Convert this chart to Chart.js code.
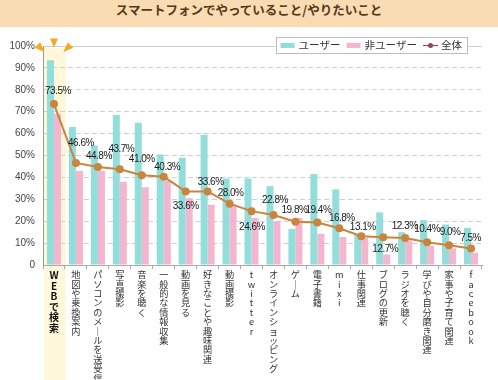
<!DOCTYPE html>
<html lang="ja">
<head>
<meta charset="utf-8">
<title>スマートフォンでやっていること/やりたいこと</title>
<script src="https://cdn.jsdelivr.net/npm/chart.js@4.4.1/dist/chart.umd.min.js"></script>
<style>
  html, body { margin: 0; padding: 0; background: #fff; }
  #wrap { position: relative; width: 498px; height: 380px; overflow: hidden; }
  #title {
    position: absolute; left: 0; top: 0; width: 498px; height: 27px; line-height: 27px;
    background: #fadcb2; color: #56381a; text-align: center; z-index: 2;
    font: bold 12.5px "Noto Sans CJK JP", sans-serif;
  }
  #chart { position: absolute; left: 0; top: 0; }
</style>
</head>
<body>
<div id="wrap">
  <div id="title">スマートフォンでやっていること/やりたいこと</div>
  <canvas id="chart" width="498" height="380"></canvas>
</div>
<script>
// --- data ---
const categories = [
  'WEBで検索', '地図や乗換案内', 'パソコンのメールを送受信', '写真撮影', '音楽を聴く',
  '一般的な情報収集', '動画を見る', '好きなことや趣味関連', '動画撮影', 'twitter',
  'オンラインショッピング', 'ゲーム', '電子書籍', 'mixi', '仕事関連',
  'ブログの更新', 'ラジオを聴く', '学びや自分磨き関連', '家事や子育て関連', 'facebook'
];
const seriesNames = ['ユーザー', '非ユーザー', '全体'];
const userValues = [93.5, 63, 54.5, 68.5, 65, 50.5, 49, 59.5, 39.5, 39.5, 36, 16.5, 41.5, 34.5, 13.7, 24, 15, 20.5, 18.5, 17];
const nonUserValues = [69, 43, 43, 38, 35.5, 38.5, 30.5, 27.5, 27.5, 21.5, 20, 21.5, 14.2, 12.8, 12.3, 4.8, 11.2, 8.7, 7.6, 5.6];
const totalValues = [73.5, 46.6, 44.8, 43.7, 41.0, 40.3, 33.6, 33.6, 28.0, 24.6, 22.8, 19.8, 19.4, 16.8, 13.1, 12.7, 12.3, 10.4, 9.0, 7.5];
const yTickValues = [0, 10, 20, 30, 40, 50, 60, 70, 80, 90, 100];

// --- styles ---
const userColor = '#93dedb';
const nonUserColor = '#f4b6cf';
const totalColor = '#c9843e';
const legendLineColor = '#8b4a58';
// where each value label sits relative to its point [dx, dy]
const labelOffsets = [
  [4, -12.7], [5, -19.2], [1, -11.1], [1.5, -20.5], [0, -16.4], [3.5, -9.9], [0, 14.4], [3, -9.6],
  [1, -10.1], [0.5, 15.8], [1.5, -15.2], [-1, -11.7], [1, -12.6], [2.5, -10], [1.5, -9.4], [2, 12],
  [-0.5, -12.1], [0, -12.6], [1, -12.6], [-0.5, -10.3]
];

// vertical labels: one character per line, long vowel mark turned upright
const verticalLabels = categories.map(s => [...s].map(c => c === 'ー' ? '｜' : c));

// --- plugins ---
function drawTriangle(ctx, x, y, angle, len, base) {
    const cos = Math.cos(angle), sin = Math.sin(angle);
    const tx = x + cos * len / 2, ty = y + sin * len / 2;
    const bx = x - cos * len / 2, by = y - sin * len / 2;
    ctx.beginPath();
    ctx.moveTo(tx, ty);
    ctx.lineTo(bx - sin * base / 2, by + cos * base / 2);
    ctx.lineTo(bx + sin * base / 2, by - cos * base / 2);
    ctx.closePath();
    ctx.fill();
}

const highlightColumn = {
    id: 'highlightColumn',
    beforeDraw(chart) {
        const x = chart.scales.x;
        const top = chart.chartArea.top;
        const half = x.width / categories.length / 2;
        const cx = x.getPixelForValue(0);
        const ctx = chart.ctx;
        ctx.save();
        ctx.fillStyle = '#fff8da';
        ctx.fillRect(cx - half + 1, top + 2, half * 2, chart.height - top);
        ctx.restore();
    },
    afterDraw(chart) {
        const x = chart.scales.x;
        const top = chart.chartArea.top;
        const cx = x.getPixelForValue(0);
        const ctx = chart.ctx;
        ctx.save();
        ctx.fillStyle = '#f2aa22';
        drawTriangle(ctx, cx, top - 3, Math.PI / 2, 9, 8);
        drawTriangle(ctx, cx - 13, top + 2.5, Math.PI / 4, 10, 8);
        drawTriangle(ctx, cx + 13, top + 2.5, Math.PI * 3 / 4, 10, 8);
        ctx.restore();
    }
};

const valueLabels = {
    id: 'valueLabels',
    afterDatasetsDraw(chart) {
        const meta = chart.getDatasetMeta(2);
        const ctx = chart.ctx;
        ctx.save();
        ctx.font = '10px "Liberation Sans", Arial, sans-serif';
        ctx.letterSpacing = '-0.5px';
        ctx.fillStyle = '#1a1a1a';
        ctx.textAlign = 'center';
        ctx.textBaseline = 'middle';
        meta.data.forEach((pt, i) => {
            const [dx, dy] = labelOffsets[i];
            ctx.fillText(totalValues[i].toFixed(1) + '%', pt.x + dx, pt.y + dy);
        });
        ctx.restore();
    }
};

const boxedLegend = {
    id: 'boxedLegend',
    afterDraw(chart) {
        const ctx = chart.ctx;
        const sets = chart.data.datasets;
        const right = chart.chartArea.right - 15;
        const top = chart.chartArea.top - 9;
        const h = 16;
        ctx.save();
        ctx.font = '10.5px "Noto Sans CJK JP", sans-serif';
        const widths = sets.map(d => ctx.measureText(d.label).width);
        const total = 5 + (14 + 4) * 2 + (15 + 3) + widths[0] + widths[1] + widths[2] + 6 * 2 + 5;
        const left = right - total;
        ctx.fillStyle = '#fff';
        ctx.fillRect(left, top, total, h);
        ctx.strokeStyle = '#bdbdbd';
        ctx.lineWidth = 1;
        ctx.strokeRect(Math.round(left) + 0.5, Math.round(top) + 0.5, Math.round(total), h);
        const cy = top + h / 2 + 0.5;
        let x = left + 5;
        ctx.textBaseline = 'middle';
        [0, 1].forEach(i => {
            ctx.fillStyle = sets[i].backgroundColor;
            ctx.fillRect(x, cy - 2.5, 14, 5);
            x += 18;
            ctx.fillStyle = '#333';
            ctx.fillText(sets[i].label, x, cy);
            x += widths[i] + 6;
        });
        ctx.strokeStyle = legendLineColor;
        ctx.lineWidth = 1.2;
        ctx.beginPath();
        ctx.moveTo(x, cy);
        ctx.lineTo(x + 15, cy);
        ctx.stroke();
        ctx.fillStyle = legendLineColor;
        ctx.beginPath();
        ctx.arc(x + 7.5, cy, 2.5, 0, Math.PI * 2);
        ctx.fill();
        x += 18;
        ctx.fillStyle = '#333';
        ctx.fillText(sets[2].label, x, cy);
        ctx.restore();
    }
};

// --- chart ---
new Chart(document.getElementById('chart'), {
    type: 'bar',
    data: {
        labels: verticalLabels,
        datasets: [
            {
                label: seriesNames[0],
                data: userValues,
                backgroundColor: userColor,
                categoryPercentage: 0.64,
                barPercentage: 1,
                order: 1
            },
            {
                label: seriesNames[1],
                data: nonUserValues,
                backgroundColor: nonUserColor,
                categoryPercentage: 0.64,
                barPercentage: 1,
                order: 1
            },
            {
                type: 'line',
                label: seriesNames[2],
                data: totalValues,
                borderColor: totalColor,
                backgroundColor: totalColor,
                borderWidth: 2,
                pointRadius: 4,
                pointBorderWidth: 0,
                pointBackgroundColor: totalColor,
                tension: 0,
                order: 0
            }
        ]
    },
    options: {
        responsive: false,
        animation: false,
        layout: { padding: { top: 46, right: 16, bottom: 0, left: 0 } },
        plugins: {
            legend: { display: false },
            title: { display: false },
            tooltip: { enabled: false }
        },
        scales: {
            x: {
                afterFit: s => { s.height = 115; },
                grid: {
                    offset: true,
                    drawOnChartArea: false,
                    drawTicks: true,
                    tickLength: 4,
                    color: '#aaa'
                },
                border: { color: '#aaa' },
                ticks: {
                    autoSkip: false,
                    maxRotation: 0,
                    minRotation: 0,
                    padding: 1,
                    color: c => c.index === 0 ? '#111' : '#333',
                    font: c => ({
                        family: '"Noto Sans CJK JP", sans-serif',
                        size: c.index === 0 ? 10 : 9.2,
                        weight: c.index === 0 ? 'bold' : 'normal',
                        lineHeight: c.index === 0 ? '10.5px' : '9.4px'
                    })
                }
            },
            y: {
                min: yTickValues[0],
                max: yTickValues[yTickValues.length - 1],
                afterFit: s => { s.width = 43; },
                afterBuildTicks: s => { s.ticks = yTickValues.map(v => ({ value: v })); },
                grid: { color: '#cfcfcf', drawTicks: false },
                border: {
                    color: '#999',
                    dash: c => (c.tick && c.tick.value > 0 && c.tick.value < 100) ? [5, 3] : []
                },
                ticks: {
                    padding: 8,
                    color: '#444',
                    font: { family: '"Liberation Sans", Arial, sans-serif', size: 10 },
                    callback: v => v === 0 ? '0' : v + '%'
                }
            }
        }
    },
    plugins: [highlightColumn, valueLabels, boxedLegend]
});
</script>
</body>
</html>
